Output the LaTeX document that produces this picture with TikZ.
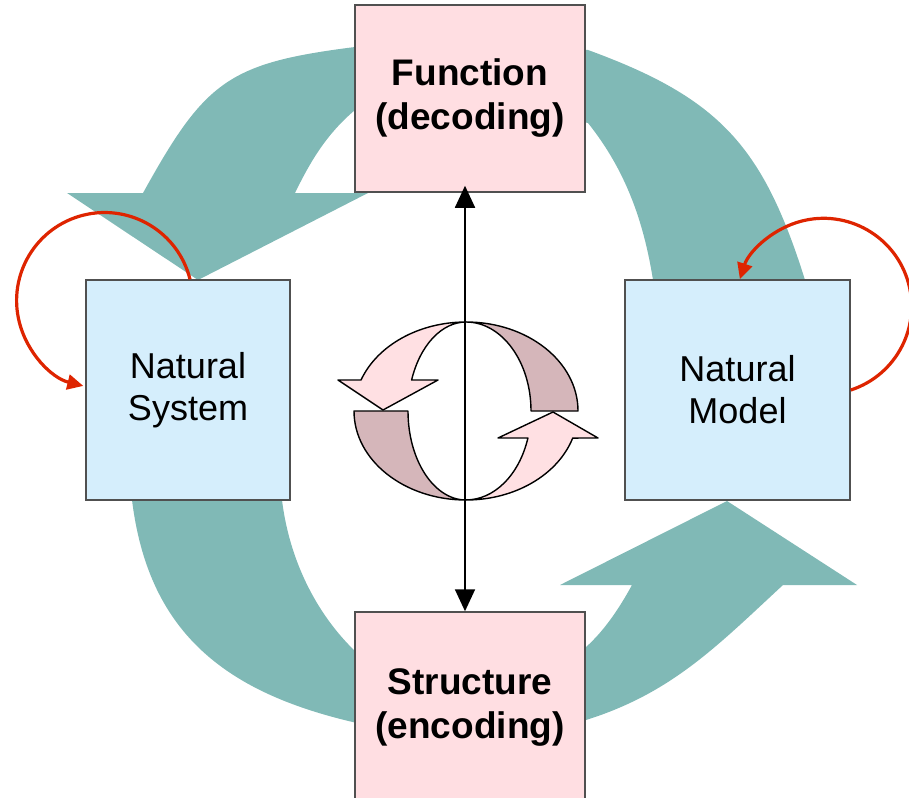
\documentclass[tikz,border=0pt]{standalone}
\usepackage{fontspec}
\setmainfont{Liberation Sans}
\usetikzlibrary{arrows.meta,calc}

\definecolor{ringteal}{RGB}{128,185,182}
\definecolor{boxpink}{RGB}{255,222,226}
\definecolor{boxblue}{RGB}{213,238,252}
\definecolor{arrpink}{RGB}{255,224,227}
\definecolor{arrmauve}{RGB}{213,182,186}
\definecolor{loopred}{RGB}{222,36,0}
\definecolor{boxedge}{RGB}{80,80,80}

\tikzset{
  basebox/.style={draw=boxedge, line width=1.5pt, align=center, inner sep=0pt},
  rolebox/.style={basebox, fill=boxpink, minimum width=230pt,
    font=\fontsize{37pt}{44pt}\selectfont\bfseries},
  natbox/.style={basebox, fill=boxblue, minimum height=220pt,
    font=\fontsize{36pt}{42pt}\selectfont},
  cyclepiece/.style={draw=black, line width=1.4pt, line join=round},
  vline/.style={line width=1.8pt, black,
    {Triangle[length=22pt,width=20pt]}-{Triangle[length=22pt,width=20pt]}},
  selfloop/.style={draw=loopred, line width=3.2pt,
    -{Triangle[length=16pt,width=15pt]}},
  band/.style={fill=ringteal}
}

\begin{document}
\begin{tikzpicture}[x=1pt,y=-1pt]
\useasboundingbox (0,0) rectangle (909,797);

% outer ring: upper half, ending in an arrow towards the natural system
\fill[band] (470,42) -- (355,47)
  .. controls (228,63) and (205,81) .. (143,193)
  -- (67,193) -- (198,280) -- (368,193) -- (295,193)
  .. controls (312,158) and (328,133) .. (355,110)
  -- (470,98) -- cycle;
\fill[band] (470,42) -- (588,50)
  .. controls (719.5,98) and (763,146) .. (805,280)
  -- (808,320) -- (652,320) -- (653,280)
  .. controls (643.6,221) and (625.5,170) .. (588,123)
  -- (470,98) -- cycle;

% outer ring: lower half, ending in an arrow towards the natural model
\fill[band] (131,470) -- (132,500)
  .. controls (148,629) and (220.5,692) .. (357,723)
  -- (470,738) -- (586,720)
  .. controls (672,693) and (717,646) .. (783,585)
  -- (857,585) -- (727,501) -- (560,585) -- (632,585)
  .. controls (620,607) and (605,630) .. (586,647)
  -- (470,668) -- (357,653)
  .. controls (314.7,613) and (289,557.5) .. (282,500)
  -- (282,470) -- cycle;

% boxes
\node[rolebox, minimum height=187pt] (fn) at (470,98.5) {Function\\(decoding)};
\node[rolebox, minimum height=190pt] (st) at (470,707) {Structure\\(encoding)};
\node[natbox, minimum width=204pt] (ns) at (188,390) {Natural\\System};
\node[natbox, minimum width=225pt] (nm) at (737.5,390) {Natural\\Model};

% central pair of circular arrows
\path[cyclepiece, fill=arrpink]
  (466,322) arc[start angle=-90, end angle=-159.6, x radius=112, y radius=89]
  -- (338,380) -- (383,410) -- (438,380) -- (411.6,380)
  arc[start angle=-159.6, end angle=-90, x radius=58, y radius=89] -- cycle;
\path[cyclepiece, fill=arrmauve]
  (354,411) arc[start angle=180, end angle=90, x radius=112, y radius=89]
  arc[start angle=90, end angle=180, x radius=58, y radius=89] -- cycle;
\path[cyclepiece, fill=arrmauve]
  (466,322) arc[start angle=-90, end angle=0, x radius=112, y radius=89]
  -- (531,411)
  arc[start angle=0, end angle=-90, x radius=65, y radius=89] -- cycle;
\path[cyclepiece, fill=arrpink]
  (466,500) arc[start angle=90, end angle=17.7, x radius=112, y radius=89]
  -- (598,438) -- (553,412) -- (498,438) -- (527.9,438)
  arc[start angle=17.7, end angle=90, x radius=65, y radius=89] -- cycle;

% link between function and structure
\draw[vline, shorten <=-7pt] ([xshift=-5pt]fn.south) -- ([xshift=-5pt]st.north);

% self-referential loops
\draw[selfloop] ([xshift=2pt]ns.north)
  arc[start angle=-14, end angle=-256, radius=88];
\draw[selfloop] (nm.east)
  arc[start angle=72, end angle=-162, radius=88];
\end{tikzpicture}
\end{document}
